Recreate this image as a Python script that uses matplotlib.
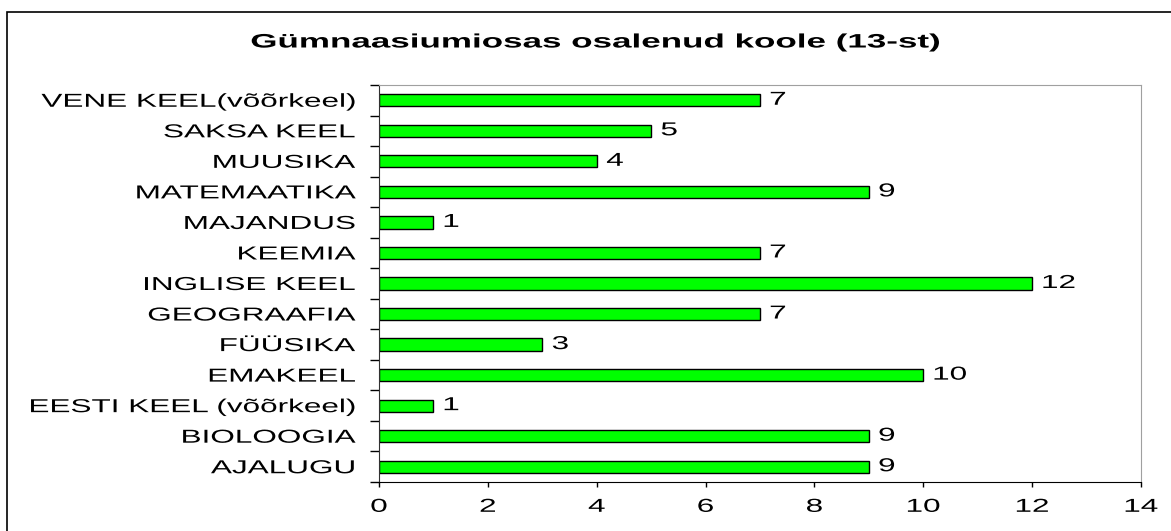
import matplotlib.pyplot as plt
from matplotlib.patches import Rectangle
from matplotlib.patheffects import AbstractPathEffect
from matplotlib.transforms import Affine2D

plt.rcParams['font.family'] = ['Liberation Sans', 'DejaVu Sans']

subjects = ['AJALUGU', 'BIOLOOGIA', 'EESTI KEEL (võõrkeel)', 'EMAKEEL', 'FÜÜSIKA',
            'GEOGRAAFIA', 'INGLISE KEEL', 'KEEMIA', 'MAJANDUS', 'MATEMAATIKA',
            'MUUSIKA', 'SAKSA KEEL', 'VENE KEEL(võõrkeel)']
schools = [9, 9, 1, 10, 3, 7, 12, 7, 1, 9, 4, 5, 7]
xticks = [0, 2, 4, 6, 8, 10, 12, 14]
title = 'Gümnaasiumiosas osalenud koole (13-st)'


class Stretch(AbstractPathEffect):
    # the original chart has its text drawn wide; widen glyph paths around the anchor
    def __init__(self, sx, anchor='left'):
        super().__init__()
        self.sx = sx
        self.anchor = anchor

    def draw_path(self, renderer, gc, tpath, affine, rgbFace=None):
        ext = tpath.get_extents()
        x0 = {'left': ext.x0, 'right': ext.x1, 'center': (ext.x0 + ext.x1) / 2}[self.anchor]
        t = Affine2D().translate(-x0, 0).scale(self.sx, 1).translate(x0, 0)
        renderer.draw_path(gc, tpath, t + affine, rgbFace)


SX = 1.68
FS = 13.5

fig = plt.figure(figsize=(11.71, 5.31), dpi=100)
fig.patches.append(Rectangle((7 / 1171, -0.1), 1.2, 1 - 12 / 531 + 0.1,
                             transform=fig.transFigure, fill=False,
                             edgecolor='black', linewidth=1.2))

ax = fig.add_axes([379 / 1171, 1 - 482 / 531, 762 / 1171, 397 / 531])
y = range(len(subjects))
ax.barh(y, schools, height=0.4, color='#00ff00', edgecolor='black', linewidth=1)
for yi, v in zip(y, schools):
    ax.text(v + 0.18, yi, str(v), va='center', ha='left', fontsize=FS,
            path_effects=[Stretch(SX, 'left')])

ax.set_xlim(0, 14)
ax.set_ylim(-0.5, len(subjects) - 0.5)
ax.set_xticks(xticks)
xl = ax.set_xticklabels([str(t) for t in xticks], fontsize=FS)
plt.setp(xl, path_effects=[Stretch(SX, 'center')])
ax.set_yticks([i - 0.5 for i in range(len(subjects) + 1)])
ax.set_yticklabels([])
ax.set_yticks(list(y), minor=True)
yl = ax.set_yticklabels(subjects, minor=True, fontsize=FS)
plt.setp(yl, path_effects=[Stretch(SX, 'right')])
ax.tick_params(axis='y', which='minor', length=0, pad=17)
ax.tick_params(axis='y', which='major', length=6.5, width=1)
ax.tick_params(axis='x', length=3.6, width=1, pad=8.5)

for s in ['top', 'right']:
    ax.spines[s].set_color('#a0a0a0')
ax.spines['left'].set_color('#303030')
ax.spines['bottom'].set_color('black')

fig.text(596 / 1171, 1 - 43 / 531, title, ha='center', va='center',
         fontsize=14, fontweight='bold', path_effects=[Stretch(1.8, 'center')])

fig.savefig('out.png', dpi=100)
